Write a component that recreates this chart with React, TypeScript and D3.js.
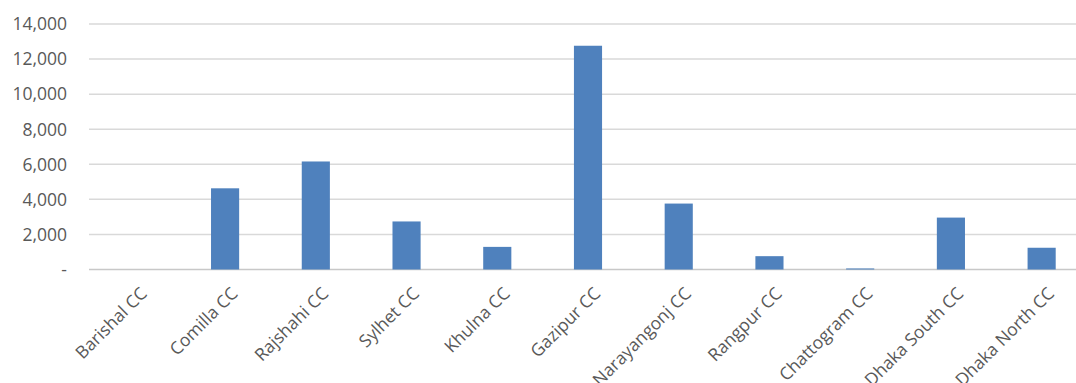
import React, { useEffect, useRef } from 'react';
import * as d3 from 'd3';

const categories = [
  'Barishal CC', 'Comilla CC', 'Rajshahi CC', 'Sylhet CC', 'Khulna CC', 'Gazipur CC',
  'Narayangonj CC', 'Rangpur CC', 'Chattogram CC', 'Dhaka South CC', 'Dhaka North CC',
];
const values = [0, 4630, 6160, 2740, 1290, 12760, 3760, 760, 60, 2960, 1240];
const yTicks = [0, 2000, 4000, 6000, 8000, 10000, 12000, 14000];

function BarChart() {
  const svgRef = useRef<SVGSVGElement>(null);

  useEffect(() => {
    const svg = d3.select(svgRef.current);
    svg.selectAll('*').remove();

    const width = 1076;
    const height = 383;
    const font = '"Open Sans", sans-serif';

    const x = d3.scaleBand()
      .domain(categories)
      .range([89, 1087])
      .paddingInner(0.69)
      .paddingOuter(0.345);

    const y = d3.scaleLinear()
      .domain([0, 14000])
      .range([269.5, 24]);

    svg.attr('width', width).attr('height', height);

    // gridlines
    svg.append('g')
      .selectAll('line')
      .data(yTicks)
      .join('line')
      .attr('x1', 89)
      .attr('x2', width)
      .attr('y1', d => y(d))
      .attr('y2', d => y(d))
      .attr('stroke', d => (d === 0 ? '#c8c8c8' : '#d9d9d9'))
      .attr('stroke-width', 1.5);

    // y labels
    svg.append('g')
      .selectAll('text')
      .data(yTicks)
      .join('text')
      .attr('x', 67)
      .attr('y', d => y(d))
      .attr('dy', '0.36em')
      .attr('text-anchor', 'end')
      .attr('font-family', font)
      .attr('font-size', 17.5)
      .attr('fill', '#595959')
      .text(d => (d === 0 ? '-' : d3.format(',')(d)));

    // bars
    svg.append('g')
      .selectAll('rect')
      .data(values)
      .join('rect')
      .attr('x', (d, i) => x(categories[i])!)
      .attr('width', x.bandwidth())
      .attr('y', d => y(d))
      .attr('height', d => y(0) - y(d))
      .attr('fill', '#4f81bd');

    // x labels (long ones run off the bottom edge, as in the source)
    svg.append('g')
      .selectAll('text')
      .data(categories)
      .join('text')
      .attr('transform', d => `translate(${x(d)! + x.bandwidth() / 2 + 5},${286}) rotate(-45)`)
      .attr('text-anchor', 'end')
      .attr('dy', '0.7em')
      .attr('font-family', font)
      .attr('font-size', 17.5)
      .attr('fill', '#595959')
      .text(d => d);
  }, []);

  return <svg ref={svgRef} style={{ position: 'absolute', left: 0, top: 0 }}></svg>;
}

export default function App() {
  return <BarChart />;
}
